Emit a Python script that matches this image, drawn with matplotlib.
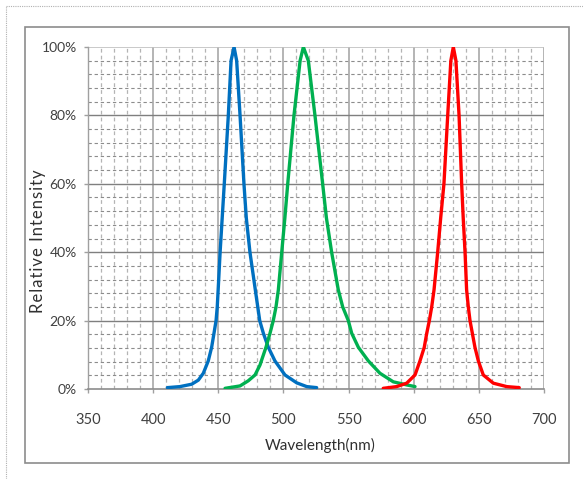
import numpy as np
import matplotlib
matplotlib.use("Agg")
import matplotlib.pyplot as plt
from matplotlib.patches import Rectangle
from matplotlib.lines import Line2D

plt.rcParams["font.family"] = ["Lato", "DejaVu Sans"]

# spectra (wavelength nm, relative intensity %)
blue_nm = [410.9, 420.6, 429.6, 434.7, 438.5, 442.3, 444.9, 446.7, 448.3, 449.2, 449.9, 451.4, 453.0,
           454.6, 457.7, 459.8, 462.1, 464.1, 466.7, 469.7, 471.5, 474.3, 478.6, 481.8, 484.6, 488.4,
           493.5, 501.2, 510.2, 517.9, 525.5]
blue_int = [0.4, 0.7, 1.4, 2.6, 4.6, 8.2, 12.2, 16.3, 20, 24, 29, 40, 50,
            60, 80, 96, 100, 96, 80, 60, 50, 40, 28.5, 20, 16.3, 12.2,
            8.2, 4.1, 1.8, 0.7, 0.4]

green_nm = [455.2, 466.7, 473.0, 478.2, 482.0, 486.6, 489.7, 492.2, 494.3, 496.1, 498.7, 501.1, 503.3,
            508.1, 512.8, 515.3, 519.1, 524.2, 530.1, 533.0, 537.0, 542.1, 545.5, 549.8, 552.4, 557.5,
            565.2, 574.1, 584.3, 594.6, 601.0]
green_int = [0.2, 0.9, 2.4, 4.1, 7, 12.2, 16.3, 20, 24, 29, 40, 50, 60,
             80, 96, 100, 96, 80, 60, 50, 40, 29, 24, 20, 16.3, 12.2,
             8.2, 4.6, 2.1, 1.2, 0.7]

red_nm = [576.6, 586.9, 594.6, 601.0, 604.8, 608.1, 610.0, 612.0, 613.8, 615.6, 618.4, 620.7, 623.2,
          626.1, 628.5, 630.4, 632.4, 634.8, 636.8, 638.0, 639.4, 640.6, 641.9, 643.2, 645.0, 647.0,
          649.6, 653.4, 661.1, 671.4, 681.0]
red_int = [0.2, 0.7, 1.7, 4.1, 8.2, 12.2, 16.3, 20, 24, 29, 40, 50, 60,
           80, 96, 100, 96, 80, 60, 50, 40, 29, 24, 20, 16.3, 12.2,
           8.2, 4.1, 1.7, 0.7, 0.4]

x_ticks = [350, 400, 450, 500, 550, 600, 650, 700]
y_ticks = [0, 20, 40, 60, 80, 100]
y_labels = ["0%", "20%", "40%", "60%", "80%", "100%"]

W, H = 583, 479
fig = plt.figure(figsize=(W / 100, H / 100), dpi=100)

# outer dotted frame (top + left) and inner chart box
fig.add_artist(Line2D([5.7 / W, 1], [1 - 6 / H, 1 - 6 / H], transform=fig.transFigure,
                      color="#b0b0b0", lw=0.8, ls=(0, (1, 1))))
fig.add_artist(Line2D([5.7 / W, 5.7 / W], [0, 1 - 6 / H], transform=fig.transFigure,
                      color="#b0b0b0", lw=0.8, ls=(0, (1, 1))))
fig.add_artist(Rectangle((25 / W, 1 - 463 / H), (569 - 25) / W, (463 - 27) / H,
                         transform=fig.transFigure, fill=False, ec="#8c8c8c", lw=1.2))

ax = fig.add_axes([88 / W, 1 - 389 / H, 456 / W, 342 / H])
ax.set_xlim(350, 700)
ax.set_ylim(0, 100)

# grid: dashed minors, solid majors
for v in np.arange(360, 700, 10):
    if v % 50:
        ax.axvline(v, color="#b4b4b4", lw=0.9, ls=(0, (3, 2.5)), zorder=0)
for v in np.arange(4, 100, 4):
    if v % 20:
        ax.axhline(v, color="#8c8c8c", lw=0.8, ls=(0, (3, 2.5)), zorder=0)
for v in x_ticks[1:]:
    ax.axvline(v, color="#a8a8a8", lw=1.2, zorder=0.5)
for v in y_ticks[1:-1]:
    ax.axhline(v, color="#7f7f7f", lw=1.0, zorder=0.5)
ax.axhline(100, color="#c0c0c0", lw=1.2, zorder=0.5)

ax.plot(blue_nm, blue_int, color="#0070C0", lw=2.4, solid_capstyle="round", solid_joinstyle="round", zorder=3)
ax.plot(green_nm, green_int, color="#00B050", lw=2.4, solid_capstyle="round", solid_joinstyle="round", zorder=3)
ax.plot(red_nm, red_int, color="#FF0000", lw=2.4, solid_capstyle="round", solid_joinstyle="round", zorder=3)

for s in ["top", "right"]:
    ax.spines[s].set_visible(False)
ax.spines["left"].set_color("#a0a0a0")
ax.spines["bottom"].set_color("#8c8c8c")
ax.spines["left"].set_linewidth(1.0)
ax.spines["bottom"].set_linewidth(1.2)

ax.set_xticks(x_ticks)
ax.set_yticks(y_ticks)
ax.set_yticklabels(y_labels)
ax.tick_params(axis="x", length=3, width=1, color="#a0a0a0", pad=14, labelsize=10.5, labelcolor="#404040")
ax.tick_params(axis="y", length=3, width=1, color="#a0a0a0", pad=5, labelsize=10, labelcolor="#404040")

fig.text(320 / W, 1 - 445 / H, "Wavelength(nm)", ha="center", va="center", fontsize=11,
         color="#303030")
ylab = "\u200a".join("Relative Intensity")
fig.text(38 / W, 1 - 241 / H, ylab, ha="center", va="center", rotation=90,
         fontsize=12, color="#303030")

fig.savefig("out.png", dpi=100)
